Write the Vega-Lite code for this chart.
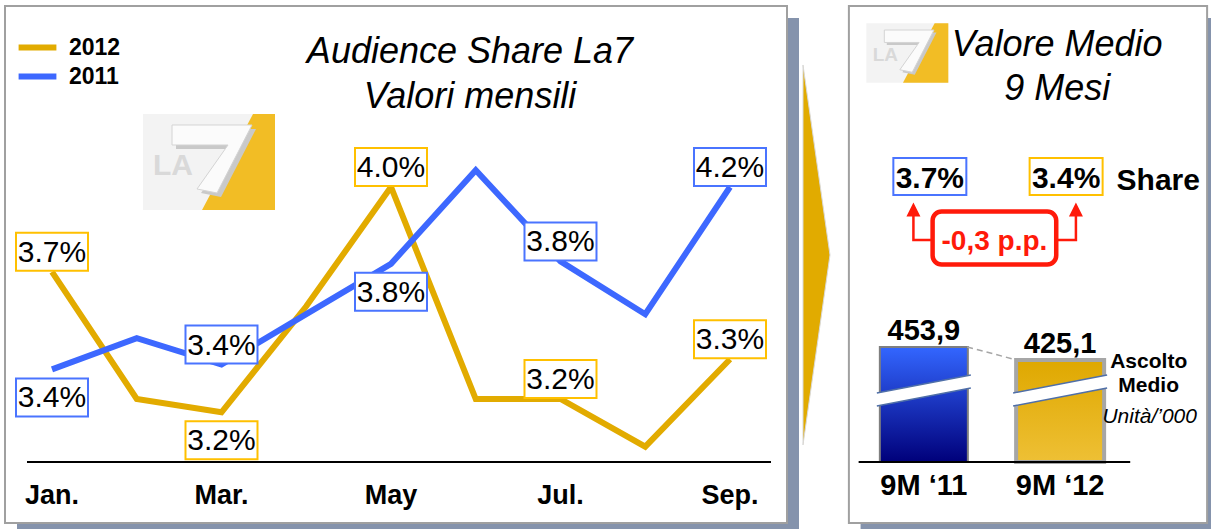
{
  "$schema": "https://vega.github.io/schema/vega-lite/v6.json",
  "padding": 0,
  "background": "white",
  "spacing": 0,
  "config": {
    "view": {"stroke": null},
    "font": "Liberation Sans",
    "concat": {"spacing": 0},
    "legend": {
      "orient": "none", "legendX": 21, "legendY": 31,
      "symbolType": "M-1.4,0L1.4,0", "symbolStrokeWidth": 6, "symbolSize": 729,
      "labelFont": "Liberation Sans", "labelFontSize": 23, "labelFontWeight": "bold",
      "labelColor": "black", "labelOffset": 15, "rowPadding": 0, "padding": 0
    }
  },
  "datasets": {
    "monthly": [
      {"m": 1, "month": "Jan.", "series": "2012", "share": 3.68, "label": "3.7%", "pos": "above"},
      {"m": 2, "month": "Feb.", "series": "2012", "share": 3.20},
      {"m": 3, "month": "Mar.", "series": "2012", "share": 3.15, "label": "3.2%", "pos": "below"},
      {"m": 4, "month": "Apr.", "series": "2012", "share": 3.55},
      {"m": 5, "month": "May", "series": "2012", "share": 4.00, "label": "4.0%", "pos": "above"},
      {"m": 6, "month": "Jun.", "series": "2012", "share": 3.20},
      {"m": 7, "month": "Jul.", "series": "2012", "share": 3.20, "label": "3.2%", "pos": "above"},
      {"m": 8, "month": "Aug.", "series": "2012", "share": 3.02},
      {"m": 9, "month": "Sep.", "series": "2012", "share": 3.35, "label": "3.3%", "pos": "above"},
      {"m": 1, "month": "Jan.", "series": "2011", "share": 3.39, "label": "3.4%", "pos": "below"},
      {"m": 2, "month": "Feb.", "series": "2011", "share": 3.52},
      {"m": 3, "month": "Mar.", "series": "2011", "share": 3.41, "label": "3.4%", "pos": "above"},
      {"m": 4, "month": "Apr.", "series": "2011", "share": 3.62},
      {"m": 5, "month": "May", "series": "2011", "share": 3.83, "label": "3.8%", "pos": "below"},
      {"m": 6, "month": "Jun.", "series": "2011", "share": 4.22},
      {"m": 7, "month": "Jul.", "series": "2011", "share": 3.84, "label": "3.8%", "pos": "above"},
      {"m": 8, "month": "Aug.", "series": "2011", "share": 3.62},
      {"m": 9, "month": "Sep.", "series": "2011", "share": 4.15, "label": "4.2%", "pos": "above"}
    ],
    "summary": [
      {"year": 2011, "period": "9M \u201811", "share": 3.7, "shareLabel": "3.7%", "listeners": 453.9, "listenersLabel": "453,9"},
      {"year": 2012, "period": "9M \u201812", "share": 3.4, "shareLabel": "3.4%", "listeners": 425.1, "listenersLabel": "425,1"}
    ]
  },
  "hconcat": [
    {
      "width": 840,
      "height": 529,
      "resolve": {"scale": {"y": "independent"}},
      "layer": [
        {
          "data": {"values": [{}]},
          "mark": {"type": "rect", "fill": "#8593AC"},
          "encoding": {
            "x": {"datum": 0.58702, "type": "quantitative", "scale": {"domain": [0.38643, 10.29794], "nice": false, "zero": false}, "axis": null},
            "x2": {"datum": 9.81416},
            "y": {"datum": 4.63774, "type": "quantitative", "scale": {"domain": [2.70943, 4.70566], "nice": false, "zero": false}, "axis": null},
            "y2": {"datum": 2.70943}
          }
        },
        {
          "data": {"values": [{}]},
          "mark": {"type": "rect", "fill": "white", "stroke": "#A0A0A0", "strokeWidth": 2},
          "encoding": {
            "x": {"datum": 0.44543, "type": "quantitative", "scale": {"domain": [0.38643, 10.29794], "nice": false, "zero": false}, "axis": null},
            "x2": {"datum": 9.67257},
            "y": {"datum": 4.68302, "type": "quantitative", "scale": {"domain": [2.70943, 4.70566], "nice": false, "zero": false}, "axis": null},
            "y2": {"datum": 2.73208}
          }
        },
        {
          "data": {"values": [{}]},
          "mark": {"type": "rule", "stroke": "black", "strokeWidth": 2},
          "encoding": {
            "x": {"datum": 0.70501, "type": "quantitative", "scale": {"domain": [0.38643, 10.29794], "nice": false, "zero": false}, "axis": null},
            "x2": {"datum": 9.48378},
            "y": {"datum": 2.96226, "type": "quantitative", "scale": {"domain": [2.70943, 4.70566], "nice": false, "zero": false}, "axis": null}
          }
        },
        {
          "data": {"name": "monthly"},
          "transform": [{"filter": "datum.series === '2012' && datum.m % 2 === 1"}],
          "mark": {"type": "text", "fontSize": 27, "fontWeight": "bold", "align": "center", "baseline": "alphabetic", "color": "black"},
          "encoding": {
            "x": {"field": "m", "type": "quantitative", "scale": {"domain": [0.38643, 10.29794], "nice": false, "zero": false}, "axis": null},
            "y": {"datum": 2.80377, "type": "quantitative", "scale": {"domain": [2.70943, 4.70566], "nice": false, "zero": false}, "axis": null},
            "text": {"field": "month"}
          }
        },
        {
          "data": {"values": [{}]},
          "mark": {"type": "point", "shape": "M-66,-48L66,-48L66,48L-66,48Z", "size": 4, "filled": true, "fill": "#F3F3F3", "strokeWidth": 0, "opacity": 1},
          "encoding": {
            "x": {"datum": 2.85251, "type": "quantitative", "scale": {"domain": [0.38643, 10.29794], "nice": false, "zero": false}, "axis": null},
            "y": {"datum": 4.09434, "type": "quantitative", "scale": {"domain": [2.70943, 4.70566], "nice": false, "zero": false}, "axis": null}
          }
        },
        {
          "data": {"values": [{}]},
          "mark": {"type": "point", "shape": "M44,-48L66,-48L66,48L-7,48Z", "size": 4, "filled": true, "fill": "#F2BD25", "strokeWidth": 0, "opacity": 1},
          "encoding": {
            "x": {"datum": 2.85251, "type": "quantitative", "scale": {"domain": [0.38643, 10.29794], "nice": false, "zero": false}, "axis": null},
            "y": {"datum": 4.09434, "type": "quantitative", "scale": {"domain": [2.70943, 4.70566], "nice": false, "zero": false}, "axis": null}
          }
        },
        {
          "data": {"values": [{}]},
          "mark": {"type": "text", "text": "LA", "fontSize": 30, "fontWeight": "bold", "color": "#D9D9D9", "align": "center", "baseline": "alphabetic", "dx": -36, "dy": 13},
          "encoding": {
            "x": {"datum": 2.85251, "type": "quantitative", "scale": {"domain": [0.38643, 10.29794], "nice": false, "zero": false}, "axis": null},
            "y": {"datum": 4.09434, "type": "quantitative", "scale": {"domain": [2.70943, 4.70566], "nice": false, "zero": false}, "axis": null}
          }
        },
        {
          "data": {"values": [{}]},
          "mark": {"type": "point", "shape": "M-33,-33L47,-33L12,35L-8,31L23,-13L-33,-13Z", "size": 4, "filled": true, "fill": "#C9C9C9", "strokeWidth": 0, "opacity": 1},
          "encoding": {
            "x": {"datum": 2.85251, "type": "quantitative", "scale": {"domain": [0.38643, 10.29794], "nice": false, "zero": false}, "axis": null},
            "y": {"datum": 4.09434, "type": "quantitative", "scale": {"domain": [2.70943, 4.70566], "nice": false, "zero": false}, "axis": null}
          }
        },
        {
          "data": {"values": [{}]},
          "mark": {"type": "point", "shape": "M-37,-37L43,-37L8,31L-12,27L19,-17L-37,-17Z", "size": 4, "filled": true, "fill": "#FBFBFB", "stroke": "#D4D4D4", "strokeWidth": 1, "opacity": 1},
          "encoding": {
            "x": {"datum": 2.85251, "type": "quantitative", "scale": {"domain": [0.38643, 10.29794], "nice": false, "zero": false}, "axis": null},
            "y": {"datum": 4.09434, "type": "quantitative", "scale": {"domain": [2.70943, 4.70566], "nice": false, "zero": false}, "axis": null}
          }
        },
        {
          "data": {"values": [{}]},
          "mark": {"type": "text", "text": ["Audience Share La7", "Valori mensili"], "fontSize": 36, "fontStyle": "italic", "color": "black", "align": "center", "baseline": "alphabetic", "lineHeight": 45},
          "encoding": {
            "x": {"datum": 5.93215, "type": "quantitative", "scale": {"domain": [0.38643, 10.29794], "nice": false, "zero": false}, "axis": null},
            "y": {"datum": 4.46792, "type": "quantitative", "scale": {"domain": [2.70943, 4.70566], "nice": false, "zero": false}, "axis": null}
          }
        },
        {
          "data": {"values": [{}]},
          "mark": {"type": "point", "shape": "M-13.5,-190L13.5,0L-13.5,190Z", "size": 4, "filled": true, "fill": "#E1AB00", "stroke": "#D9D9D9", "strokeWidth": 1, "opacity": 1},
          "encoding": {
            "x": {"datum": 10.02065, "type": "quantitative", "scale": {"domain": [0.38643, 10.29794], "nice": false, "zero": false}, "axis": null},
            "y": {"datum": 3.7434, "type": "quantitative", "scale": {"domain": [2.70943, 4.70566], "nice": false, "zero": false}, "axis": null}
          }
        },
        {
          "data": {"name": "monthly"},
          "transform": [{"filter": "datum.series === '2012'"}],
          "mark": {"type": "line", "strokeWidth": 6},
          "encoding": {
            "x": {"field": "m", "type": "quantitative", "scale": {"domain": [0.38643, 10.29794], "nice": false, "zero": false}, "axis": null},
            "y": {"field": "share", "type": "quantitative", "scale": {"domain": [2.70943, 4.70566], "nice": false, "zero": false}, "axis": null},
            "color": {"field": "series", "type": "nominal", "scale": {"domain": ["2012", "2011"], "range": ["#E2AB00", "#3D68FF"]}, "legend": {"title": null}}
          }
        },
        {
          "data": {"name": "monthly"},
          "transform": [{"filter": "datum.series === '2011'"}],
          "mark": {"type": "line", "strokeWidth": 6},
          "encoding": {
            "x": {"field": "m", "type": "quantitative", "scale": {"domain": [0.38643, 10.29794], "nice": false, "zero": false}, "axis": null},
            "y": {"field": "share", "type": "quantitative", "scale": {"domain": [2.725, 4.92917], "nice": false, "zero": false}, "axis": null},
            "color": {"field": "series", "type": "nominal", "scale": {"domain": ["2012", "2011"], "range": ["#E2AB00", "#3D68FF"]}, "legend": {"title": null}}
          }
        },
        {
          "data": {"name": "monthly"},
          "transform": [{"filter": "datum.series === '2012' && datum.pos === 'above'"}],
          "mark": {"type": "point", "shape": "M-36,-19L36,-19L36,19L-36,19Z", "size": 4, "filled": true, "fill": "white", "stroke": "#FFC000", "strokeWidth": 2, "opacity": 1, "yOffset": -20},
          "encoding": {
            "x": {"field": "m", "type": "quantitative", "scale": {"domain": [0.38643, 10.29794], "nice": false, "zero": false}, "axis": null},
            "y": {"field": "share", "type": "quantitative", "scale": {"domain": [2.70943, 4.70566], "nice": false, "zero": false}, "axis": null}
          }
        },
        {
          "data": {"name": "monthly"},
          "transform": [{"filter": "datum.series === '2012' && datum.pos === 'above'"}],
          "mark": {"type": "text", "fontSize": 30, "color": "black", "align": "center", "baseline": "middle", "dy": -19},
          "encoding": {
            "x": {"field": "m", "type": "quantitative", "scale": {"domain": [0.38643, 10.29794], "nice": false, "zero": false}, "axis": null},
            "y": {"field": "share", "type": "quantitative", "scale": {"domain": [2.70943, 4.70566], "nice": false, "zero": false}, "axis": null},
            "text": {"field": "label"}
          }
        },
        {
          "data": {"name": "monthly"},
          "transform": [{"filter": "datum.series === '2012' && datum.pos === 'below'"}],
          "mark": {"type": "point", "shape": "M-36,-19L36,-19L36,19L-36,19Z", "size": 4, "filled": true, "fill": "white", "stroke": "#FFC000", "strokeWidth": 2, "opacity": 1, "yOffset": 28},
          "encoding": {
            "x": {"field": "m", "type": "quantitative", "scale": {"domain": [0.38643, 10.29794], "nice": false, "zero": false}, "axis": null},
            "y": {"field": "share", "type": "quantitative", "scale": {"domain": [2.70943, 4.70566], "nice": false, "zero": false}, "axis": null}
          }
        },
        {
          "data": {"name": "monthly"},
          "transform": [{"filter": "datum.series === '2012' && datum.pos === 'below'"}],
          "mark": {"type": "text", "fontSize": 30, "color": "black", "align": "center", "baseline": "middle", "dy": 29},
          "encoding": {
            "x": {"field": "m", "type": "quantitative", "scale": {"domain": [0.38643, 10.29794], "nice": false, "zero": false}, "axis": null},
            "y": {"field": "share", "type": "quantitative", "scale": {"domain": [2.70943, 4.70566], "nice": false, "zero": false}, "axis": null},
            "text": {"field": "label"}
          }
        },
        {
          "data": {"name": "monthly"},
          "transform": [{"filter": "datum.series === '2011' && datum.pos === 'above'"}],
          "mark": {"type": "point", "shape": "M-36,-19L36,-19L36,19L-36,19Z", "size": 4, "filled": true, "fill": "white", "stroke": "#4A74FF", "strokeWidth": 2, "opacity": 1, "yOffset": -20},
          "encoding": {
            "x": {"field": "m", "type": "quantitative", "scale": {"domain": [0.38643, 10.29794], "nice": false, "zero": false}, "axis": null},
            "y": {"field": "share", "type": "quantitative", "scale": {"domain": [2.725, 4.92917], "nice": false, "zero": false}, "axis": null}
          }
        },
        {
          "data": {"name": "monthly"},
          "transform": [{"filter": "datum.series === '2011' && datum.pos === 'above'"}],
          "mark": {"type": "text", "fontSize": 30, "color": "black", "align": "center", "baseline": "middle", "dy": -19},
          "encoding": {
            "x": {"field": "m", "type": "quantitative", "scale": {"domain": [0.38643, 10.29794], "nice": false, "zero": false}, "axis": null},
            "y": {"field": "share", "type": "quantitative", "scale": {"domain": [2.725, 4.92917], "nice": false, "zero": false}, "axis": null},
            "text": {"field": "label"}
          }
        },
        {
          "data": {"name": "monthly"},
          "transform": [{"filter": "datum.series === '2011' && datum.pos === 'below'"}],
          "mark": {"type": "point", "shape": "M-36,-19L36,-19L36,19L-36,19Z", "size": 4, "filled": true, "fill": "white", "stroke": "#4A74FF", "strokeWidth": 2, "opacity": 1, "yOffset": 28},
          "encoding": {
            "x": {"field": "m", "type": "quantitative", "scale": {"domain": [0.38643, 10.29794], "nice": false, "zero": false}, "axis": null},
            "y": {"field": "share", "type": "quantitative", "scale": {"domain": [2.725, 4.92917], "nice": false, "zero": false}, "axis": null}
          }
        },
        {
          "data": {"name": "monthly"},
          "transform": [{"filter": "datum.series === '2011' && datum.pos === 'below'"}],
          "mark": {"type": "text", "fontSize": 30, "color": "black", "align": "center", "baseline": "middle", "dy": 29},
          "encoding": {
            "x": {"field": "m", "type": "quantitative", "scale": {"domain": [0.38643, 10.29794], "nice": false, "zero": false}, "axis": null},
            "y": {"field": "share", "type": "quantitative", "scale": {"domain": [2.725, 4.92917], "nice": false, "zero": false}, "axis": null},
            "text": {"field": "label"}
          }
        }
      ]
    },
    {
      "width": 376,
      "height": 529,
      "layer": [
        {
          "data": {"values": [{}]},
          "mark": {"type": "rect", "fill": "#8593AC"},
          "encoding": {
            "x": {"datum": 2010.53571, "type": "quantitative", "scale": {"domain": [2010.42143, 2013.10714], "nice": false, "zero": false}, "axis": null},
            "x2": {"datum": 2013.10714},
            "y": {"datum": 1182.76, "type": "quantitative", "scale": {"domain": [50.7, 1222.64], "nice": false, "zero": false}, "axis": null},
            "y2": {"datum": 50.7}
          }
        },
        {
          "data": {"values": [{}]},
          "mark": {"type": "rect", "fill": "white", "stroke": "#A0A0A0", "strokeWidth": 2},
          "encoding": {
            "x": {"datum": 2010.45, "type": "quantitative", "scale": {"domain": [2010.42143, 2013.10714], "nice": false, "zero": false}, "axis": null},
            "x2": {"datum": 2013.07857},
            "y": {"datum": 1209.34, "type": "quantitative", "scale": {"domain": [50.7, 1222.64], "nice": false, "zero": false}, "axis": null},
            "y2": {"datum": 63.99}
          }
        },
        {
          "data": {"values": [{}]},
          "mark": {"type": "point", "shape": "M-66,-48L66,-48L66,48L-66,48Z", "size": 1.5426, "filled": true, "fill": "#F3F3F3", "strokeWidth": 0, "opacity": 1},
          "encoding": {
            "x": {"datum": 2010.87857, "type": "quantitative", "scale": {"domain": [2010.42143, 2013.10714], "nice": false, "zero": false}, "axis": null},
            "y": {"datum": 1105.22, "type": "quantitative", "scale": {"domain": [50.7, 1222.64], "nice": false, "zero": false}, "axis": null}
          }
        },
        {
          "data": {"values": [{}]},
          "mark": {"type": "point", "shape": "M44,-48L66,-48L66,48L-7,48Z", "size": 1.5426, "filled": true, "fill": "#F2BD25", "strokeWidth": 0, "opacity": 1},
          "encoding": {
            "x": {"datum": 2010.87857, "type": "quantitative", "scale": {"domain": [2010.42143, 2013.10714], "nice": false, "zero": false}, "axis": null},
            "y": {"datum": 1105.22, "type": "quantitative", "scale": {"domain": [50.7, 1222.64], "nice": false, "zero": false}, "axis": null}
          }
        },
        {
          "data": {"values": [{}]},
          "mark": {"type": "text", "text": "LA", "fontSize": 19, "fontWeight": "bold", "color": "#D9D9D9", "align": "center", "baseline": "alphabetic", "dx": -22, "dy": 8},
          "encoding": {
            "x": {"datum": 2010.87857, "type": "quantitative", "scale": {"domain": [2010.42143, 2013.10714], "nice": false, "zero": false}, "axis": null},
            "y": {"datum": 1105.22, "type": "quantitative", "scale": {"domain": [50.7, 1222.64], "nice": false, "zero": false}, "axis": null}
          }
        },
        {
          "data": {"values": [{}]},
          "mark": {"type": "point", "shape": "M-33,-33L47,-33L12,35L-8,31L23,-13L-33,-13Z", "size": 1.5426, "filled": true, "fill": "#C9C9C9", "strokeWidth": 0, "opacity": 1},
          "encoding": {
            "x": {"datum": 2010.87857, "type": "quantitative", "scale": {"domain": [2010.42143, 2013.10714], "nice": false, "zero": false}, "axis": null},
            "y": {"datum": 1105.22, "type": "quantitative", "scale": {"domain": [50.7, 1222.64], "nice": false, "zero": false}, "axis": null}
          }
        },
        {
          "data": {"values": [{}]},
          "mark": {"type": "point", "shape": "M-37,-37L43,-37L8,31L-12,27L19,-17L-37,-17Z", "size": 1.5426, "filled": true, "fill": "#FBFBFB", "stroke": "#D4D4D4", "strokeWidth": 1, "opacity": 1},
          "encoding": {
            "x": {"datum": 2010.87857, "type": "quantitative", "scale": {"domain": [2010.42143, 2013.10714], "nice": false, "zero": false}, "axis": null},
            "y": {"datum": 1105.22, "type": "quantitative", "scale": {"domain": [50.7, 1222.64], "nice": false, "zero": false}, "axis": null}
          }
        },
        {
          "data": {"values": [{}]},
          "mark": {"type": "text", "text": ["Valore Medio", "9 Mesi"], "fontSize": 36, "fontStyle": "italic", "color": "black", "align": "center", "baseline": "alphabetic", "lineHeight": 44},
          "encoding": {
            "x": {"datum": 2011.97857, "type": "quantitative", "scale": {"domain": [2010.42143, 2013.10714], "nice": false, "zero": false}, "axis": null},
            "y": {"datum": 1098.57, "type": "quantitative", "scale": {"domain": [50.7, 1222.64], "nice": false, "zero": false}, "axis": null}
          }
        },
        {
          "data": {"name": "summary"},
          "mark": {"type": "point", "shape": "M-36.5,-18.5L36.5,-18.5L36.5,18.5L-36.5,18.5Z", "size": 4, "filled": true, "fill": "white", "strokeWidth": 2, "opacity": 1, "xOffset": 6},
          "encoding": {
            "x": {"field": "year", "type": "quantitative", "scale": {"domain": [2010.42143, 2013.10714], "nice": false, "zero": false}, "axis": null},
            "y": {"datum": 831.62, "type": "quantitative", "scale": {"domain": [50.7, 1222.64], "nice": false, "zero": false}, "axis": null},
            "stroke": {"condition": {"test": "datum.year === 2011", "value": "#4A74FF"}, "value": "#FFC000"}
          }
        },
        {
          "data": {"name": "summary"},
          "mark": {"type": "text", "fontSize": 30, "fontWeight": "bold", "color": "black", "align": "center", "baseline": "alphabetic", "dx": 6},
          "encoding": {
            "x": {"field": "year", "type": "quantitative", "scale": {"domain": [2010.42143, 2013.10714], "nice": false, "zero": false}, "axis": null},
            "y": {"datum": 806.14, "type": "quantitative", "scale": {"domain": [50.7, 1222.64], "nice": false, "zero": false}, "axis": null},
            "text": {"field": "shareLabel"}
          }
        },
        {
          "data": {"values": [{}]},
          "mark": {"type": "text", "text": "Share", "fontSize": 30, "fontWeight": "bold", "color": "black", "align": "left", "baseline": "alphabetic"},
          "encoding": {
            "x": {"datum": 2012.41429, "type": "quantitative", "scale": {"domain": [2010.42143, 2013.10714], "nice": false, "zero": false}, "axis": null},
            "y": {"datum": 801.71, "type": "quantitative", "scale": {"domain": [50.7, 1222.64], "nice": false, "zero": false}, "axis": null}
          }
        },
        {
          "data": {"values": [{}]},
          "mark": {"type": "point", "shape": "M-63.5,2L-81,2L-81,-22M63.5,2L81.5,2L81.5,-22", "size": 4, "filled": false, "stroke": "#FF1A0A", "strokeWidth": 2.5, "opacity": 1},
          "encoding": {
            "x": {"datum": 2011.51786, "type": "quantitative", "scale": {"domain": [2010.42143, 2013.10714], "nice": false, "zero": false}, "axis": null},
            "y": {"datum": 695.38, "type": "quantitative", "scale": {"domain": [50.7, 1222.64], "nice": false, "zero": false}, "axis": null}
          }
        },
        {
          "data": {"values": [{}]},
          "mark": {"type": "point", "shape": "M-81,-35.5L-74,-21.5L-88,-21.5ZM81.5,-35.5L88.5,-21.5L74.5,-21.5Z", "size": 4, "filled": true, "fill": "#FF1A0A", "strokeWidth": 0, "opacity": 1},
          "encoding": {
            "x": {"datum": 2011.51786, "type": "quantitative", "scale": {"domain": [2010.42143, 2013.10714], "nice": false, "zero": false}, "axis": null},
            "y": {"datum": 695.38, "type": "quantitative", "scale": {"domain": [50.7, 1222.64], "nice": false, "zero": false}, "axis": null}
          }
        },
        {
          "data": {"values": [{}]},
          "mark": {"type": "rect", "fill": "white", "stroke": "#FF1A0A", "strokeWidth": 4.5, "cornerRadius": 9},
          "encoding": {
            "x": {"datum": 2011.06429, "type": "quantitative", "scale": {"domain": [2010.42143, 2013.10714], "nice": false, "zero": false}, "axis": null},
            "x2": {"datum": 2011.97143},
            "y": {"datum": 754.08, "type": "quantitative", "scale": {"domain": [50.7, 1222.64], "nice": false, "zero": false}, "axis": null},
            "y2": {"datum": 636.67}
          }
        },
        {
          "data": {"values": [{}]},
          "mark": {"type": "text", "text": "-0,3 p.p.", "fontSize": 28, "fontWeight": "bold", "color": "#FF1A0A", "align": "center", "baseline": "alphabetic"},
          "encoding": {
            "x": {"datum": 2011.51786, "type": "quantitative", "scale": {"domain": [2010.42143, 2013.10714], "nice": false, "zero": false}, "axis": null},
            "y": {"datum": 668.79, "type": "quantitative", "scale": {"domain": [50.7, 1222.64], "nice": false, "zero": false}, "axis": null}
          }
        },
        {
          "data": {"name": "summary"},
          "transform": [{"filter": "datum.year === 2011"}],
          "mark": {"type": "bar", "size": 88, "stroke": "#7F7F7F", "strokeWidth": 2, "fill": {"gradient": "linear", "x1": 0, "y1": 0, "x2": 0, "y2": 1, "stops": [{"offset": 0, "color": "#3366FF"}, {"offset": 1, "color": "#00007A"}]}},
          "encoding": {
            "x": {"field": "year", "type": "quantitative", "scale": {"domain": [2010.42143, 2013.10714], "nice": false, "zero": false}, "axis": null},
            "y": {"field": "listeners", "type": "quantitative", "scale": {"domain": [50.7, 1222.64], "nice": false, "zero": false}, "axis": null},
            "y2": {"datum": 199.131}
          }
        },
        {
          "data": {"name": "summary"},
          "transform": [{"filter": "datum.year === 2012"}],
          "mark": {"type": "bar", "size": 88, "stroke": "#A6A6A6", "strokeWidth": 4, "fill": {"gradient": "linear", "x1": 0, "y1": 0, "x2": 0, "y2": 1, "stops": [{"offset": 0, "color": "#DFA800"}, {"offset": 1, "color": "#EEC035"}]}},
          "encoding": {
            "x": {"field": "year", "type": "quantitative", "scale": {"domain": [2010.42143, 2013.10714], "nice": false, "zero": false}, "axis": null},
            "y": {"field": "listeners", "type": "quantitative", "scale": {"domain": [50.7, 1222.64], "nice": false, "zero": false}, "axis": null},
            "y2": {"datum": 199.131}
          }
        },
        {
          "data": {"name": "summary"},
          "mark": {"type": "point", "shape": "M-47,2.5L47,-15.5L47,-2.5L-47,15.5Z", "size": 4, "filled": true, "fill": "white", "strokeWidth": 0, "opacity": 1},
          "encoding": {
            "x": {"field": "year", "type": "quantitative", "scale": {"domain": [2010.42143, 2013.10714], "nice": false, "zero": false}, "axis": null},
            "y": {"datum": 357.53, "type": "quantitative", "scale": {"domain": [50.7, 1222.64], "nice": false, "zero": false}, "axis": null}
          }
        },
        {
          "data": {"name": "summary"},
          "mark": {"type": "point", "shape": "M-47,2.5L47,-15.5M-47,15.5L47,-2.5", "size": 4, "filled": false, "stroke": "#4F6FA8", "strokeWidth": 1.5, "opacity": 1},
          "encoding": {
            "x": {"field": "year", "type": "quantitative", "scale": {"domain": [2010.42143, 2013.10714], "nice": false, "zero": false}, "axis": null},
            "y": {"datum": 357.53, "type": "quantitative", "scale": {"domain": [50.7, 1222.64], "nice": false, "zero": false}, "axis": null}
          }
        },
        {
          "data": {"values": [{}]},
          "mark": {"type": "rule", "stroke": "#A6A6A6", "strokeWidth": 1.5, "strokeDash": [6, 4]},
          "encoding": {
            "x": {"datum": 2011.31786, "type": "quantitative", "scale": {"domain": [2010.42143, 2013.10714], "nice": false, "zero": false}, "axis": null},
            "x2": {"datum": 2011.68214},
            "y": {"datum": 453.9, "type": "quantitative", "scale": {"domain": [50.7, 1222.64], "nice": false, "zero": false}, "axis": null},
            "y2": {"datum": 425.1}
          }
        },
        {
          "data": {"values": [{}]},
          "mark": {"type": "rule", "stroke": "black", "strokeWidth": 2},
          "encoding": {
            "x": {"datum": 2010.52143, "type": "quantitative", "scale": {"domain": [2010.42143, 2013.10714], "nice": false, "zero": false}, "axis": null},
            "x2": {"datum": 2012.51429},
            "y": {"datum": 199.131, "type": "quantitative", "scale": {"domain": [50.7, 1222.64], "nice": false, "zero": false}, "axis": null}
          }
        },
        {
          "data": {"name": "summary"},
          "mark": {"type": "text", "fontSize": 29, "fontWeight": "bold", "color": "black", "align": "center", "baseline": "alphabetic", "dy": -7},
          "encoding": {
            "x": {"field": "year", "type": "quantitative", "scale": {"domain": [2010.42143, 2013.10714], "nice": false, "zero": false}, "axis": null},
            "y": {"field": "listeners", "type": "quantitative", "scale": {"domain": [50.7, 1222.64], "nice": false, "zero": false}, "axis": null},
            "text": {"field": "listenersLabel"}
          }
        },
        {
          "data": {"name": "summary"},
          "mark": {"type": "text", "fontSize": 29, "fontWeight": "bold", "color": "black", "align": "center", "baseline": "alphabetic"},
          "encoding": {
            "x": {"field": "year", "type": "quantitative", "scale": {"domain": [2010.42143, 2013.10714], "nice": false, "zero": false}, "axis": null},
            "y": {"datum": 126.02, "type": "quantitative", "scale": {"domain": [50.7, 1222.64], "nice": false, "zero": false}, "axis": null},
            "text": {"field": "period"}
          }
        },
        {
          "data": {"values": [{}]},
          "mark": {"type": "text", "text": ["Ascolto", "Medio"], "fontSize": 21, "fontWeight": "bold", "color": "black", "align": "center", "baseline": "alphabetic", "lineHeight": 24},
          "encoding": {
            "x": {"datum": 2012.65, "type": "quantitative", "scale": {"domain": [2010.42143, 2013.10714], "nice": false, "zero": false}, "axis": null},
            "y": {"datum": 407.37, "type": "quantitative", "scale": {"domain": [50.7, 1222.64], "nice": false, "zero": false}, "axis": null}
          }
        },
        {
          "data": {"values": [{}]},
          "mark": {"type": "text", "text": "Unità/’000", "fontSize": 21, "fontStyle": "italic", "color": "black", "align": "center", "baseline": "alphabetic"},
          "encoding": {
            "x": {"datum": 2012.65714, "type": "quantitative", "scale": {"domain": [2010.42143, 2013.10714], "nice": false, "zero": false}, "axis": null},
            "y": {"datum": 285.53, "type": "quantitative", "scale": {"domain": [50.7, 1222.64], "nice": false, "zero": false}, "axis": null}
          }
        }
      ]
    }
  ]
}
